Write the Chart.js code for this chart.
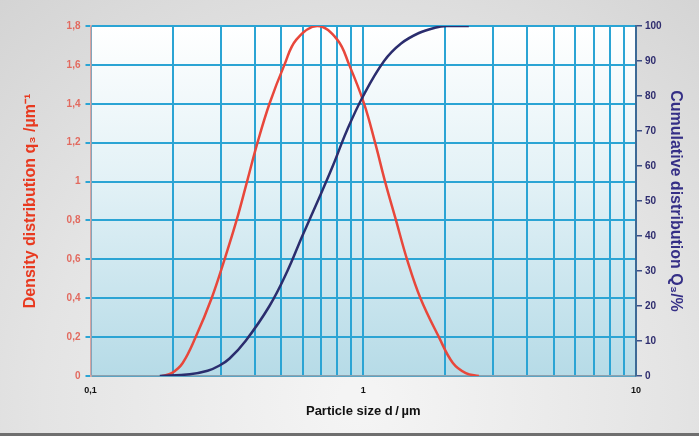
<!DOCTYPE html>
<html>
<head>
<meta charset="utf-8">
<script src="https://cdn.jsdelivr.net/npm/chart.js@4"></script>
<style>
  html, body { margin: 0; padding: 0; background: #e4e4e4; }
  #wrap { width: 699px; height: 436px; position: relative; }
</style>
</head>
<body>
<div id="wrap"><canvas id="chart" width="699" height="436"></canvas></div>
<script>
// particle size (µm) and density q3 (1/µm)
const densitySize = [0.1825, 0.1986, 0.2178, 0.243, 0.278, 0.3101, 0.3431, 0.3749, 0.4095, 0.453, 0.5139, 0.5685, 0.6783, 0.8027, 0.8882, 1.0076, 1.1053, 1.2023, 1.319, 1.447, 1.6209, 1.8942, 2.1312, 2.3773, 2.6521]
const densityValue = [0, 0.015, 0.067, 0.2, 0.4, 0.6, 0.8, 1.0, 1.2, 1.4, 1.6, 1.73, 1.8, 1.73, 1.6, 1.4, 1.2, 1.0, 0.8, 0.6, 0.4, 0.2, 0.067, 0.015, 0]

// particle size (µm) and cumulative Q3 (%)
const cumulativeSize = [0.1795, 0.231, 0.2688, 0.2973, 0.3236, 0.3702, 0.453, 0.5271, 0.5978, 0.6812, 0.7732, 0.8697, 0.9992, 1.1923, 1.3761, 1.6003, 1.8314, 2.0266, 2.4381]
const cumulativeValue = [0, 0.5, 1.5, 3, 5, 10, 20, 30, 40, 50, 60, 70, 80, 90, 95, 98, 99.5, 100, 100]

const xTicks = [0.1, 0.2, 0.3, 0.4, 0.5, 0.6, 0.7, 0.8, 0.9, 1, 2, 3, 4, 5, 6, 7, 8, 9, 10]
const xTickLabels = { 0.1: '0,1', 1: '1', 10: '10' }

const GRID = '#2ba4d4'
const RED = '#e8473b'
const NAVY = '#2b2d6e'

const backgroundPlugin = {
  id: 'backgrounds',
  beforeDraw(chart) {
    const { ctx, width, height, chartArea } = chart
    ctx.save()
    const outer = ctx.createRadialGradient(360, 400, 20, 360, 400, 560)
    outer.addColorStop(0, '#f4f4f4')
    outer.addColorStop(0.55, '#e4e4e4')
    outer.addColorStop(1, '#d2d2d2')
    ctx.fillStyle = outer
    ctx.fillRect(0, 0, width, height)

    const inner = ctx.createLinearGradient(0, chartArea.top, 0, chartArea.bottom)
    inner.addColorStop(0, '#ffffff')
    inner.addColorStop(0.45, '#e2f1f6')
    inner.addColorStop(1, '#b6dbe7')
    ctx.fillStyle = inner
    ctx.fillRect(chartArea.left, chartArea.top, chartArea.right - chartArea.left, chartArea.bottom - chartArea.top)

    ctx.fillStyle = '#6f6f6f'
    ctx.fillRect(0, height - 3, width, 3)
    ctx.restore()
  },
}

const ctx = document.getElementById('chart').getContext('2d')

new Chart(ctx, {
  type: 'line',
  data: {
    datasets: [
      {
        label: 'Q3',
        data: cumulativeSize.map((x, i) => ({ x, y: cumulativeValue[i] })),
        yAxisID: 'yCum',
        borderColor: NAVY,
        borderWidth: 2.5,
        pointRadius: 0,
        tension: 0.4,
        fill: false,
      },
      {
        label: 'q3',
        data: densitySize.map((x, i) => ({ x, y: densityValue[i] })),
        yAxisID: 'yDen',
        borderColor: RED,
        borderWidth: 2.5,
        pointRadius: 0,
        tension: 0.4,
        fill: false,
      },
    ],
  },
  options: {
    responsive: false,
    animation: false,
    layout: { padding: { top: 26, left: 0, right: 0, bottom: 0 } },
    plugins: {
      legend: { display: false },
      tooltip: { enabled: false },
    },
    scales: {
      x: {
        type: 'logarithmic',
        min: 0.1,
        max: 10,
        afterBuildTicks(scale) {
          scale.ticks = xTicks.map((value) => ({ value }))
        },
        afterFit(scale) {
          scale.height = 60
        },
        ticks: {
          autoSkip: false,
          maxRotation: 0,
          padding: 9,
          color: '#111111',
          font: { family: 'Liberation Sans', size: 9, weight: 'bold' },
          callback: (value) => xTickLabels[value] ?? '',
        },
        grid: { color: GRID, lineWidth: 2, drawTicks: false },
        border: { color: '#8da2b0', width: 1.5 },
        title: {
          display: true,
          text: 'Particle size d\u2009/\u2009µm',
          color: '#111111',
          font: { family: 'Liberation Sans', size: 13, weight: 'bold' },
          padding: { top: 0, bottom: 17 },
        },
      },
      yDen: {
        position: 'left',
        min: 0,
        max: 1.8,
        afterFit(scale) {
          scale.width = 90.5
        },
        ticks: {
          stepSize: 0.2,
          padding: 5,
          color: '#e26a5f',
          font: { family: 'Liberation Sans', size: 10, weight: 'bold' },
          callback: (value) => {
            const v = Math.round(value * 10) / 10
            return Number.isInteger(v) ? String(v) : v.toFixed(1).replace('.', ',')
          },
        },
        grid: { color: GRID, lineWidth: 2, tickLength: 5 },
        border: { color: '#d9a3a0', width: 1.5 },
        title: {
          display: true,
          text: 'Density distribution q\u2083 /µm\u207b\u00b9',
          color: '#e8391f',
          font: { family: 'Liberation Sans', size: 16, weight: 'bold' },
          padding: { top: 21, bottom: 0 },
        },
      },
      yCum: {
        position: 'right',
        min: 0,
        max: 100,
        afterFit(scale) {
          scale.width = 63
        },
        ticks: {
          stepSize: 10,
          padding: 3,
          color: '#2e2c6e',
          font: { family: 'Liberation Sans', size: 10, weight: 'bold' },
        },
        grid: { drawOnChartArea: false, color: '#3d4f86', lineWidth: 1.5, tickLength: 6 },
        border: { color: '#3d6a96', width: 2 },
        title: {
          display: true,
          text: 'Cumulative distribution Q\u2083/%',
          color: '#352f86',
          font: { family: 'Liberation Sans', size: 16, weight: 'bold' },
          padding: { top: 14, bottom: 0 },
        },
      },
    },
  },
  plugins: [backgroundPlugin],
})
</script>
</body>
</html>
